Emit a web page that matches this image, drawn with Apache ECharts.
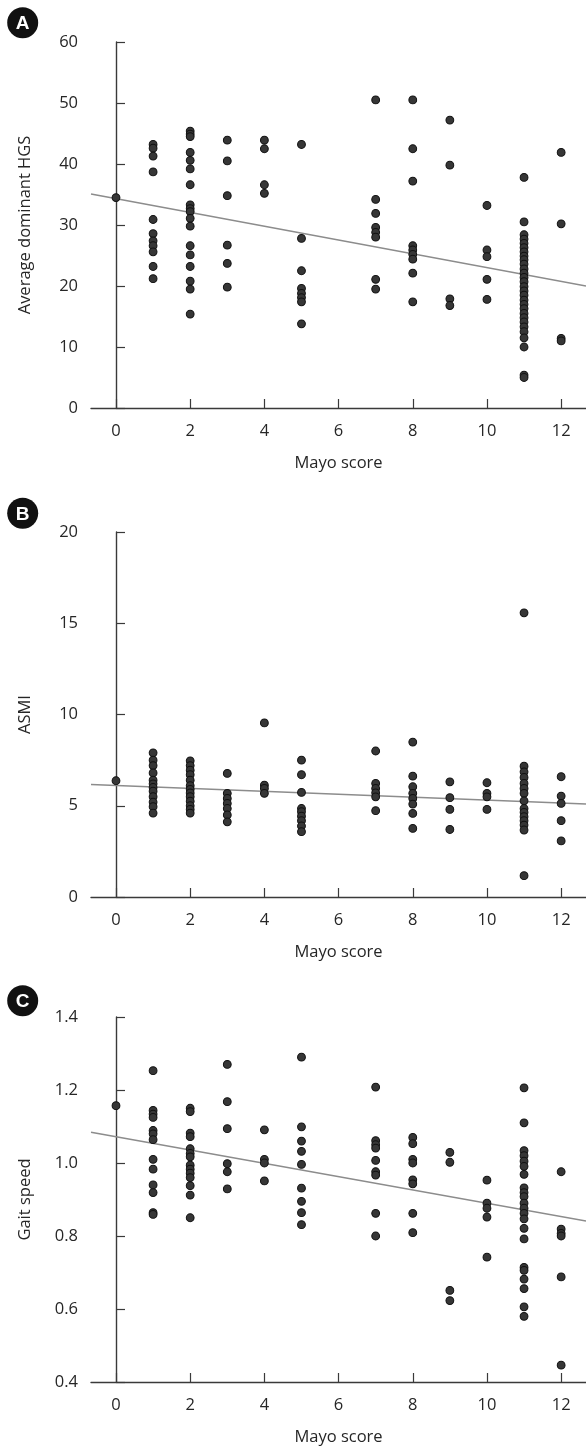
<!DOCTYPE html>
<html>
<head>
<meta charset="utf-8">
<script src="https://cdn.jsdelivr.net/npm/echarts@6/dist/echarts.min.js"></script>
<style>
html,body{margin:0;padding:0;background:#fff;}
#chart{width:586px;height:1448px;}
</style>
</head>
<body>
<div id="chart"></div>
<script>
// ---- Data ----
const mayoScores = [0, 1, 2, 3, 4, 5, 7, 8, 9, 10, 11, 12];
const xTickValues = [0, 2, 4, 6, 8, 10, 12];

// Panel A: Average dominant HGS by Mayo score
const hgsValues = [
  [34.5],
  [43.2, 42.6, 41.3, 38.7, 30.9, 28.6, 27.4, 26.6, 25.6, 23.2, 21.2],
  [45.4, 44.9, 44.5, 41.9, 40.6, 39.2, 36.6, 33.3, 32.7, 32.2, 31.1, 29.8, 26.6, 25.1, 23.2, 20.8, 19.5, 15.4],
  [43.9, 40.5, 34.8, 26.7, 23.7, 19.8],
  [43.9, 42.5, 36.6, 35.2],
  [43.2, 27.8, 22.5, 19.6, 18.8, 18.1, 17.4, 13.8],
  [50.5, 34.2, 31.9, 29.6, 28.8, 28.0, 21.1, 19.5],
  [50.5, 42.5, 37.2, 26.6, 25.9, 25.2, 24.4, 22.1, 17.4],
  [47.2, 39.8, 17.9, 16.8],
  [33.2, 25.9, 24.8, 21.1, 17.8],
  [37.8, 30.5, 28.4, 27.7, 27.0, 26.3, 25.6, 24.9, 24.3, 23.6, 22.8, 22.1, 21.4, 20.7, 19.9, 19.2, 18.5, 17.7, 17.0, 16.3, 15.5, 14.8, 14.1, 13.3, 12.5, 11.5, 10.0, 5.4, 5.0],
  [41.9, 30.2, 11.4, 11.0]
];
const hgsFitLine = [[-0.674, 35.1], [12.67, 20.0]];
const hgsTicks = [0, 60, 10];

// Panel B: ASMI by Mayo score
const asmiValues = [
  [6.37],
  [7.9, 7.5, 7.2, 6.8, 6.4, 6.2, 6.0, 5.8, 5.5, 5.2, 4.95, 4.6],
  [7.46, 7.2, 6.95, 6.7, 6.4, 6.1, 5.9, 5.7, 5.5, 5.25, 5.0, 4.8, 4.6],
  [6.77, 5.68, 5.4, 5.13, 4.85, 4.5, 4.12],
  [9.54, 6.13, 5.95, 5.68],
  [7.5, 6.7, 5.73, 4.85, 4.67, 4.43, 4.18, 3.89, 3.58],
  [8.0, 6.22, 5.95, 5.71, 5.49, 4.73],
  [8.49, 6.62, 6.04, 5.68, 5.4, 5.09, 4.58, 3.76],
  [6.31, 5.44, 4.8, 3.7],
  [6.26, 5.68, 5.49, 4.8],
  [15.57, 7.17, 6.86, 6.55, 6.22, 5.95, 5.68, 5.27, 4.85, 4.64, 4.4, 4.18, 3.94, 3.67, 1.17],
  [6.59, 5.53, 5.13, 4.18, 3.07]
];
const asmiFitLine = [[-0.674, 6.17], [12.67, 5.09]];
const asmiTicks = [0, 20, 5];

// Panel C: Gait speed by Mayo score
const gaitValues = [
  [1.157],
  [1.253, 1.144, 1.134, 1.125, 1.089, 1.080, 1.064, 1.010, 0.983, 0.940, 0.919, 0.864, 0.859],
  [1.150, 1.141, 1.082, 1.072, 1.039, 1.026, 1.017, 0.994, 0.983, 0.972, 0.960, 0.938, 0.912, 0.850],
  [1.270, 1.168, 1.094, 0.998, 0.976, 0.929],
  [1.091, 1.010, 1.000, 0.951],
  [1.290, 1.099, 1.060, 1.032, 0.996, 0.931, 0.895, 0.864, 0.831],
  [1.208, 1.061, 1.050, 1.041, 1.007, 0.976, 0.967, 0.862, 0.800],
  [1.070, 1.053, 1.010, 1.000, 0.954, 0.943, 0.862, 0.809],
  [1.029, 1.002, 0.651, 0.623],
  [0.953, 0.890, 0.876, 0.852, 0.742],
  [1.206, 1.110, 1.034, 1.020, 1.005, 0.991, 0.969, 0.932, 0.919, 0.908, 0.890, 0.876, 0.862, 0.847, 0.821, 0.792, 0.714, 0.706, 0.682, 0.656, 0.606, 0.580],
  [0.976, 0.819, 0.807, 0.800, 0.688, 0.446]
];
const gaitFitLine = [[-0.674, 1.084], [12.67, 0.841]];
const gaitTicks = [0.4, 1.4, 0.2];

const panelLetters = ['A', 'B', 'C'];
const yNames = ['Average dominant HGS', 'ASMI', 'Gait speed'];
const xName = 'Mayo score';

// ---- Build chart ----
function toPairs(values) {
  const out = [];
  values.forEach((col, i) => col.forEach(v => out.push([mayoScores[i], v])));
  return out;
}

const FONT = '"Open Sans", "Noto Sans", sans-serif';
const FS = 16.5;
const TXT = '#262626';
const AX = '#3a3a3a';

const grids = [
  { left: 91, right: 0, top: 42, height: 366 },
  { left: 91, right: 0, top: 532, height: 365 },
  { left: 91, right: 0, top: 1017, height: 365 }
];
const yTicks = [hgsTicks, asmiTicks, gaitTicks];
const pointSets = [hgsValues, asmiValues, gaitValues];
const fitSets = [hgsFitLine, asmiFitLine, gaitFitLine];

const xAxes = grids.map((g, i) => ({
  type: 'value', gridIndex: i, min: -0.674, max: 12.67,
  name: xName, nameLocation: 'middle', nameGap: 47,
  nameTextStyle: { fontFamily: FONT, fontSize: FS, color: TXT },
  axisLine: { show: true, onZero: false, lineStyle: { color: AX, width: 1.4 } },
  axisTick: { show: true, inside: true, length: 9, customValues: xTickValues, lineStyle: { color: AX, width: 1.2 } },
  axisLabel: { customValues: xTickValues, margin: 15, fontFamily: FONT, fontSize: FS, color: TXT },
  splitLine: { show: false }
}));

const yAxes = grids.map((g, i) => ({
  type: 'value', gridIndex: i,
  min: yTicks[i][0], max: yTicks[i][1], interval: yTicks[i][2],
  name: yNames[i], nameLocation: 'middle', nameGap: 57,
  nameTextStyle: { fontFamily: FONT, fontSize: FS, color: TXT },
  axisLine: { show: true, lineStyle: { color: AX, width: 1.4 } },
  axisTick: { show: true, inside: true, length: 9, lineStyle: { color: AX, width: 1.2 } },
  axisLabel: {
    margin: 13, fontFamily: FONT, fontSize: FS, color: TXT,
    formatter: v => (i === 2 ? v.toFixed(1) : String(v))
  },
  splitLine: { show: false }
}));

const series = [];
pointSets.forEach((vals, i) => {
  series.push({
    type: 'line', xAxisIndex: i, yAxisIndex: i,
    data: fitSets[i], symbol: 'none', silent: true, z: 1,
    lineStyle: { color: '#8c8c8c', width: 1.5 }
  });
  series.push({
    type: 'scatter', xAxisIndex: i, yAxisIndex: i,
    data: toPairs(vals), symbol: 'circle', symbolSize: 7.8, z: 2,
    itemStyle: { color: '#363636', borderColor: '#111', borderWidth: 1, opacity: 1 }
  });
});

const badgeCenters = [[22.7, 22.7], [22.7, 513.3], [22.7, 1000.7]];
const graphic = [];
badgeCenters.forEach((c, i) => {
  graphic.push({ type: 'circle', shape: { cx: c[0], cy: c[1], r: 15.5 }, style: { fill: '#111' } });
  graphic.push({
    type: 'text', x: c[0], y: c[1] + 1,
    style: { text: panelLetters[i], fill: '#fff', font: 'bold 19px "Liberation Sans", Arial, sans-serif', textAlign: 'center', textVerticalAlign: 'middle' }
  });
});

const chart = echarts.init(document.getElementById('chart'), null, { renderer: 'canvas' });
chart.setOption({
  animation: false,
  backgroundColor: '#fff',
  grid: grids,
  xAxis: xAxes,
  yAxis: yAxes,
  series: series,
  graphic: graphic
});
</script>
</body>
</html>
